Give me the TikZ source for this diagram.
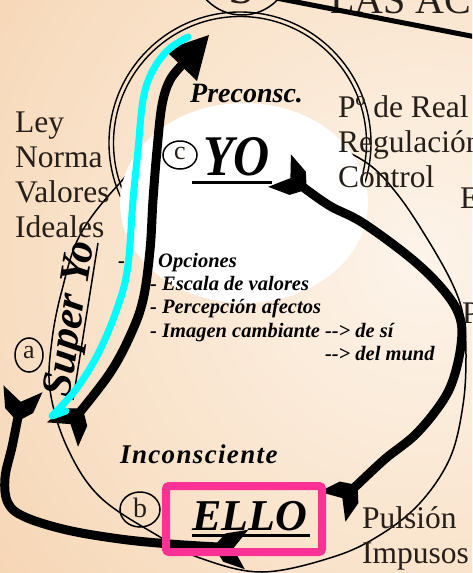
\documentclass[tikz,border=0pt]{standalone}
\usepackage{fontspec}
\setmainfont{Liberation Serif}
\usetikzlibrary{calc}
\definecolor{txt}{RGB}{38,30,24}
\definecolor{cyanx}{RGB}{0,255,255}
\definecolor{pinkx}{RGB}{250,50,150}
\definecolor{bgA}{RGB}{253,244,234}
\definecolor{bgB}{RGB}{248,222,194}
\definecolor{bgC}{RGB}{243,198,156}
\definecolor{bgD}{RGB}{241,189,144}
\pgfdeclareradialshading{bgshade}{\pgfpoint{0bp}{0bp}}{color(0bp)=(bgA); color(18bp)=(bgB); color(34bp)=(bgC); color(50bp)=(bgD)}
\tikzset{
  lbl/.style={font=\fontsize{31.5}{35}\selectfont, text=txt, inner sep=0pt, anchor=base west},
  bi/.style={font=\fontsize{#1}{#1}\selectfont\bfseries\itshape, text=black, inner sep=0pt, anchor=base west},
  thinline/.style={line width=1.5pt, draw=black},
  arr/.style={line width=9pt, draw=black, line join=round},
  pics/fork/.style={code={
    \fill[black] ({#1+102.3}:4.7) -- ({#1+65.2}:15.7) -- ({#1+34.7}:34.8) -- ({#1}:15.4) -- ({#1-34.7}:34.8) -- ({#1-65.2}:15.7) -- ({#1-102.3}:4.7) -- cycle;
  }}
}
\begin{document}
\begin{tikzpicture}[x=1pt,y=-1pt]
\useasboundingbox (0,0) rectangle (472,573);
\clip (0,0) rectangle (472,573);
% background
\shade[shading=bgshade] (420,260) circle (560);

% circles
\draw[line width=1.4pt] (240,143) circle (131);
\draw[line width=1.4pt] (240,143) circle (126.5);
\draw[thinline] plot[smooth cycle, tension=0.6] coordinates {(240,128) (325,145) (367,163) (398,195) (428,240) (452,283) (463,315) (466,355) (463,405) (450,458) (420,503) (380,535) (333,557) (262,572) (200,558) (160,537) (100,497) (67,447) (50,390) (52,340) (62,290) (80,235) (118,185) (165,142)};
\fill[white] (244,203) ellipse (124 and 100);

% top S circle and title
\node[lbl, font=\fontsize{40}{40}\selectfont] (title) at (330,13) {LAS AC};
\draw[line width=5pt] (276,-2) -- (476,37);
\draw[thinline] (242,-34) circle (49);
\node[anchor=base, inner sep=0pt, font=\fontsize{48}{48}\selectfont, text=txt] (S) at (242,3) {S};

% left labels
\node[lbl] (ley) at (15,132) {Ley};
\node[lbl] (norma) at (15,167) {Norma};
\node[lbl] (valores) at (15,202) {Valores};
\node[lbl] (ideales) at (15,237) {Ideales};
% right labels
\node[lbl] (real) at (338,117) {Pº de Real};
\node[lbl] (regul) at (338,152) {Regulación};
\node[lbl] (control) at (338,187) {Control};
\node[lbl] (E) at (460,208) {E};
\node[lbl] (P) at (462,323) {P};
\node[lbl] (pulsion) at (362,528) {Pulsión};
\node[lbl] (impusos) at (362,563) {Impusos};

% bold italic labels
\node[bi=28] (precon) at (190,102) {Preconsc.};
\node[bi=27, font=\fontsize{27}{27}\selectfont\bfseries\itshape\addfontfeatures{LetterSpace=5}] (incons) at (120,463) {Inconsciente};
\node[bi=50] (yo) at (203,175) {\scalebox{1}[1.15]{YO}};
\draw[line width=3pt] (192,182) -- (272,182);
\node[bi=44] (ello) at (192,530) {ELLO};
\draw[line width=3pt] (192,535) -- (310,535);

% list
\node[bi=20.5] (d0) at (118,267) {-};
\node[bi=20.5] (l1) at (158,267) {Opciones};
\node[bi=20.5] (l2) at (150,290) {- Escala de valores};
\node[bi=20.5] (l3) at (150,313) {- Percepción afectos};
\node[bi=20.5] (l4) at (150,337) {- Imagen cambiante -{}-> de sí};
\node[bi=20.5] (l5) at (150,360) {\phantom{- Imagen cambiante }-{}-> del mund};

% circled letters
\draw[thinline] (180,155) ellipse (17 and 14);
\node[inner sep=0pt, font=\fontsize{26}{26}\selectfont, text=txt] (c) at (180,153) {c};
\draw[thinline] (140,509.5) ellipse (20 and 17.5);
\node[inner sep=0pt, font=\fontsize{28}{28}\selectfont, text=txt] (b) at (140,508) {b};
\draw[thinline] (29,355) ellipse (14 and 17);
\node[inner sep=0pt, font=\fontsize{26}{26}\selectfont, text=txt] (a) at (29,353) {a};

% Super Yo
\node[inner sep=0pt, anchor=base, rotate=81, font=\fontsize{42.5}{42.5}\selectfont\bfseries\itshape] (superyo) at (81.6,320.9) {Super Yo};
\draw[line width=1.5pt] (98,243) -- (73,400);

% arrows
\coordinate (t1) at (80,412);
\coordinate (h1) at (183,64);
\draw[arr] plot[smooth, tension=0.6] coordinates {(t1) (110,373) (130,336) (143,300) (150,250) (153,200) (157,150) (162,105) (170,80) (h1)};
\fill[black] (209,35) -- (165,50) -- (197,81) -- cycle;
\pic at (t1) {fork=128};

\coordinate (e1) at (303,187);
\coordinate (e2) at (354,488);
\draw[arr] plot[smooth, tension=0.6] coordinates {(e1) (330,206) (363,223) (413,260) (445,292) (460,318) (461,345) (453,380) (440,405) (415,435) (385,459) (e2)};
\pic at (e1) {fork=215};
\pic at (e2) {fork=139};

\coordinate (e3) at (18,417);
\coordinate (e4) at (218,547);
\draw[arr] plot[smooth, tension=0.6] coordinates {(e3) (12,447) (5,478) (8,503) (25,517) (67,530) (120,539) (170,544) (e4)};
\pic at (e3) {fork=280};
\pic at (e4) {fork=5};

% cyan highlight
\coordinate (c1) at (188,37);
\coordinate (c2) at (52,416);
\coordinate (c3) at (66,411);
\draw[cyanx, line width=7pt, line cap=round, line join=round] plot[smooth, tension=0.6] coordinates {(c1) (168,50) (152,72) (143,100) (138,150) (133,200) (128,265) (119,303) (100,350) (77,388) (c2)} -- (c3);

% pink box
\draw[pinkx, line width=8pt, rounded corners=3pt] (166,486) rectangle (322,552);
\end{tikzpicture}
\end{document}
